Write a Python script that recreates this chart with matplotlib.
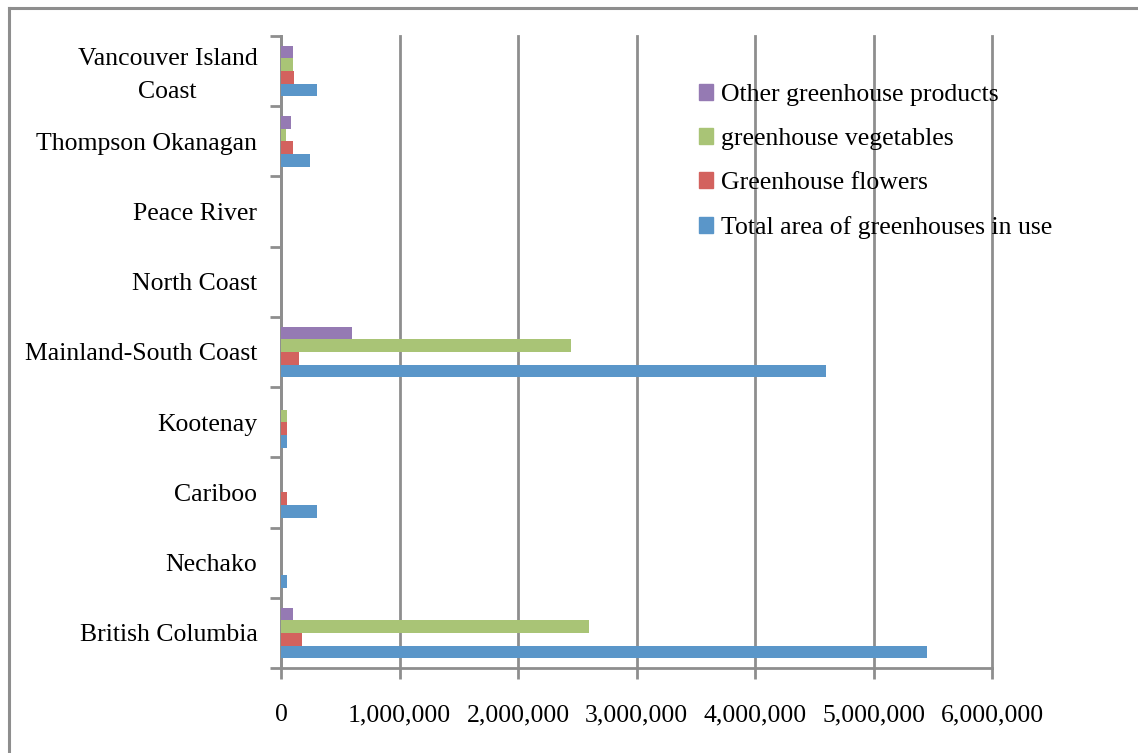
import matplotlib
matplotlib.use("Agg")
import matplotlib.pyplot as plt
import matplotlib.patches as mpatches
import matplotlib.transforms as mtransforms
from matplotlib.ticker import FuncFormatter
import numpy as np

regions = ["British Columbia", "Nechako", "Cariboo", "Kootenay",
           "Mainland-South Coast", "North Coast", "Peace River",
           "Thompson Okanagan", "Vancouver Island\nCoast"]

total_area = [5450000, 50000, 300000, 50000, 4600000, 0, 0, 247000, 300000]
flowers = [180000, 0, 50000, 48000, 150000, 0, 0, 99000, 110000]
vegetables = [2600000, 0, 0, 48000, 2450000, 0, 0, 45000, 100000]
other_products = [100000, 0, 0, 0, 600000, 0, 0, 82000, 100000]

series = [
    ("Total area of greenhouses in use", total_area, "#5A96C9"),
    ("Greenhouse flowers", flowers, "#D3625E"),
    ("greenhouse vegetables", vegetables, "#A9C476"),
    ("Other greenhouse products", other_products, "#957AB3"),
]

plt.rcParams["font.family"] = ["Liberation Serif", "DejaVu Serif"]
grey = "#8E8E8E"
fs = 18.5

fig = plt.figure(figsize=(11.38, 7.53), dpi=100)
ax = fig.add_axes([281 / 1138, 1 - 668 / 753, (992 - 281) / 1138, (668 - 36) / 753])

# outer chart border (top and left edges visible)
fig.add_artist(plt.Line2D([9 / 1138, 9 / 1138], [0, 1 - 8 / 753],
                          transform=fig.transFigure, color=grey, lw=2.2))
fig.add_artist(plt.Line2D([9 / 1138, 1], [1 - 8 / 753, 1 - 8 / 753],
                          transform=fig.transFigure, color=grey, lw=2.2))

y = np.arange(len(regions))
bar_h = 0.18
handles = []
for i, (name, vals, col) in enumerate(series):
    offs = (i - 1.5) * bar_h
    ax.barh(y + offs, vals, height=bar_h, color=col, linewidth=0, zorder=3)
    handles.append(mpatches.Patch(color=col, label=name))

ax.set_xlim(0, 6000000)
ax.set_ylim(-0.5, len(regions) - 0.5)
ax.set_xticks(np.arange(0, 6000001, 1000000))
ax.xaxis.set_major_formatter(FuncFormatter(lambda v, p: f"{int(v):,}"))
ax.set_yticks(y)
ax.set_yticklabels(regions, ha="right", multialignment="center", linespacing=1.65)
ax.set_yticks(np.arange(-0.5, len(regions), 1), minor=True)
ax.tick_params(axis="y", which="major", length=0, pad=17, labelsize=fs)
ax.tick_params(axis="y", which="minor", length=8, width=2, color=grey)
ax.tick_params(axis="x", length=8, width=2, color=grey, labelsize=fs, pad=18)

# nudge the two-line label slightly upward
two_line = ax.get_yticklabels()[-1]
two_line.set_transform(two_line.get_transform() +
                       mtransforms.ScaledTranslation(0, 4 / 100, fig.dpi_scale_trans))

ax.grid(axis="x", color=grey, lw=2, zorder=0)
for gl in ax.get_xgridlines():
    gl.set_clip_on(False)
for s in ["top", "right"]:
    ax.spines[s].set_visible(False)
for s in ["left", "bottom"]:
    ax.spines[s].set_color(grey)
    ax.spines[s].set_linewidth(2)

ax.legend(handles=handles[::-1], loc="upper left",
          bbox_to_anchor=((699 - 281) / (992 - 281), 1 - (84 - 36) / (668 - 36)),
          frameon=False, fontsize=fs, handlelength=0.55, handleheight=0.55,
          handletextpad=0.3, labelspacing=0.86, borderaxespad=0, borderpad=0)

fig.savefig("out.png", dpi=100)
